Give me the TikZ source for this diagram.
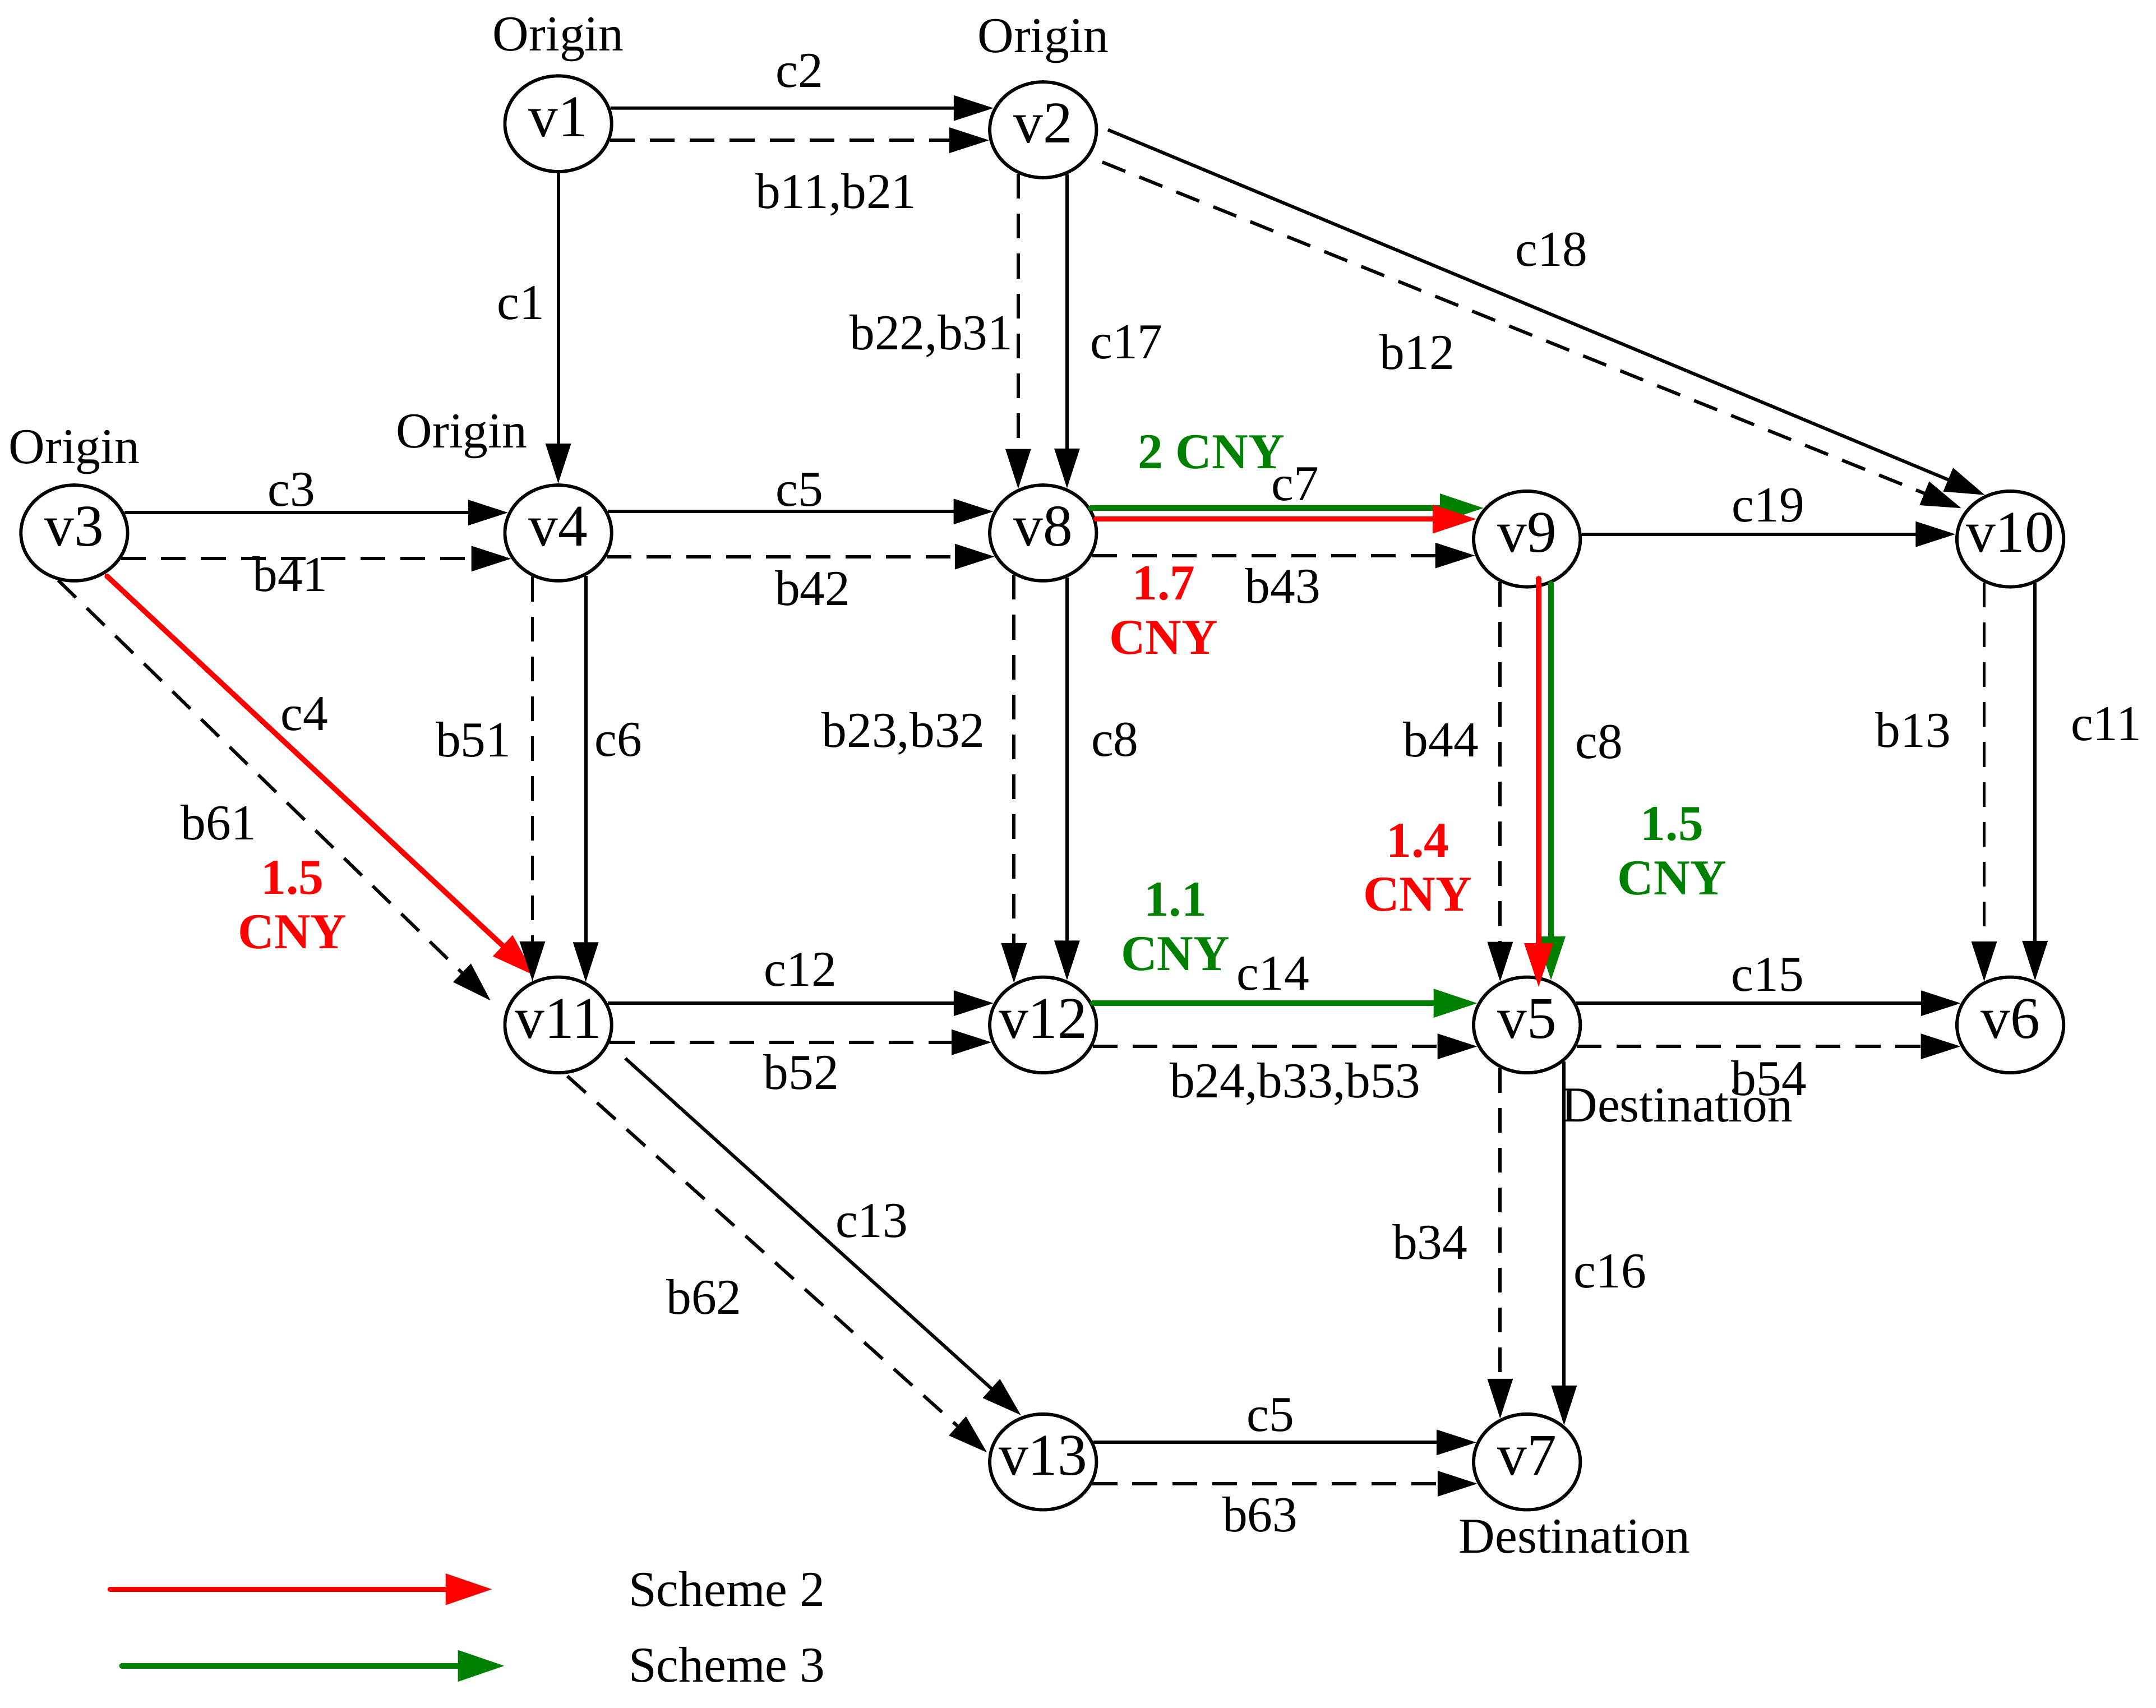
\documentclass[tikz,border=0pt]{standalone}
\usepackage{fontspec}
\setmainfont{Liberation Serif}
\usetikzlibrary{arrows.meta,calc,shapes.geometric}
\definecolor{sgreen}{RGB}{0,128,0}
\definecolor{sred}{RGB}{255,0,0}
\newcommand\RX{40}
\newcommand\RY{36}
% border point of a node for a horizontal line: node, side (+1 right, -1 left), screen dy
\newcommand\hp[3]{($(#1)+({(#2)*\RX*sqrt(1-((#3)/\RY)^2)},{#3})$)}
% border point of a node for a vertical line: node, side (+1 below, -1 above), screen dx
\newcommand\vp[3]{($(#1)+({#3},{(#2)*\RY*sqrt(1-((#3)/\RX)^2)})$)}
\newcommand\vlab[1]{\makebox[0pt]{\raisebox{-9.5pt}[0pt][0pt]{#1}}}
\tikzset{
  vnode/.style={draw, line width=2.4pt, ellipse, minimum width=77.6pt, minimum height=69.6pt,
    inner sep=0pt, outer sep=0pt, font=\fontsize{43}{50}\selectfont},
  lbl/.style={font=\fontsize{36.5}{40}\selectfont, inner sep=0pt},
  clbl/.style={font=\bfseries\fontsize{36.5}{39.5}\selectfont, align=center, inner sep=0pt},
  sol/.style={line width=2.4pt, -{Triangle[length=29pt,width=18pt]}},
  dsh/.style={sol, dash pattern=on 18pt off 11pt},
  redp/.style={draw=sred, line width=3.8pt, line cap=round, -{Triangle[length=32pt,width=20pt]}},
  grnp/.style={draw=sgreen, line width=3.8pt, line cap=round, -{Triangle[length=32pt,width=20pt]}},
}
\begin{document}
\begin{tikzpicture}[x=1pt, y=-1pt]
\fill[white] (0,0) rectangle (1568,1242);
\useasboundingbox (0,0) rectangle (1568,1242);

% nodes
\node[vnode] (v1)  at (406,90)      {\vlab{v1}};
\node[vnode] (v2)  at (758.6,94.4)  {\vlab{v2}};
\node[vnode] (v3)  at (54,387.6)    {\vlab{v3}};
\node[vnode] (v4)  at (406,387.6)   {\vlab{v4}};
\node[vnode] (v8)  at (758.6,387.6) {\vlab{v8}};
\node[vnode] (v9)  at (1110.5,392)  {\vlab{v9}};
\node[vnode] (v10) at (1462,392)    {\vlab{v10}};
\node[vnode] (v11) at (406,745.4)   {\vlab{v11}};
\node[vnode] (v12) at (758.6,745.4) {\vlab{v12}};
\node[vnode] (v5)  at (1110.5,745.4){\vlab{v5}};
\node[vnode] (v6)  at (1462,745.4)  {\vlab{v6}};
\node[vnode] (v13) at (758.6,1063.2){\vlab{v13}};
\node[vnode] (v7)  at (1110.5,1063.2){\vlab{v7}};

% v1 -> v2
\draw[sol] \hp{v1}{1}{-11.4} -- \hp{v2}{-1}{-15.8};
\draw[dsh] \hp{v1}{1}{12} -- \hp{v2}{-1}{7.6};
% v1 -> v4
\draw[sol] \vp{v1}{1}{0} -- \vp{v4}{-1}{0};
% v2 -> v8
\draw[dsh] \vp{v2}{1}{-18.1} -- \vp{v8}{-1}{-18.1};
\draw[sol] \vp{v2}{1}{17.4} -- \vp{v8}{-1}{17.4};
% v2 -> v10
\draw[sol] ($(v2)+(47.2,0)$) -- ($(v10)+(-18.4,-32)$);
\draw[dsh] ($(v2)+(43.1,23.5)$) -- ($(v10)+(-35.6,-22.4)$);
% v3 -> v4
\draw[sol] \hp{v3}{1}{-14.8} -- \hp{v4}{-1}{-14.8};
\draw[dsh] \hp{v3}{1}{18.7} -- \hp{v4}{-1}{18.7};
% v3 -> v11
\draw[dsh] ($(v3)+(-11.7,34.4)$) -- ($(v11)+(-49.2,-17.7)$);
\draw[redp] ($(v3)+(23.8,31.4)$) -- ($(v11)+(-17,-35.8)$);
% v4 -> v8
\draw[sol] \hp{v4}{1}{-15.6} -- \hp{v8}{-1}{-15.6};
\draw[dsh] \hp{v4}{1}{17.2} -- \hp{v8}{-1}{17.2};
% v4 -> v11
\draw[dsh] \vp{v4}{1}{-18.8} -- \vp{v11}{-1}{-18.8};
\draw[sol] \vp{v4}{1}{20} -- \vp{v11}{-1}{20};
% v8 -> v9
\draw[grnp] \hp{v8}{1}{-18.1} -- \hp{v9}{-1}{-22.5};
\draw[redp] \hp{v8}{1}{-10.1} -- \hp{v9}{-1}{-14.5};
\draw[dsh] \hp{v8}{1}{16.4} -- \hp{v9}{-1}{12};
% v8 -> v12
\draw[dsh] \vp{v8}{1}{-21.2} -- \vp{v12}{-1}{-21.2};
\draw[sol] \vp{v8}{1}{17.4} -- \vp{v12}{-1}{17.4};
% v9 -> v10
\draw[sol] \hp{v9}{1}{-3.5} -- \hp{v10}{-1}{-3.5};
% v9 -> v5
\draw[dsh] \vp{v9}{1}{-19.5} -- \vp{v5}{-1}{-19.5};
\draw[grnp] \vp{v9}{1}{17.5} -- \vp{v5}{-1}{17.5};
\draw[redp] ($(v9)+(8.5,28.7)$) -- ($(v5)+(8.5,-27.4)$);
% v10 -> v6
\draw[dsh] \vp{v10}{1}{-19} -- \vp{v6}{-1}{-19};
\draw[sol] \vp{v10}{1}{18} -- \vp{v6}{-1}{18};
% v11 -> v12
\draw[sol] \hp{v11}{1}{-15.8} -- \hp{v12}{-1}{-15.8};
\draw[dsh] \hp{v11}{1}{12.6} -- \hp{v12}{-1}{12.6};
% v11 -> v13
\draw[sol] ($(v11)+(48.8,24.3)$) -- ($(v13)+(-16.1,-34)$);
\draw[dsh] ($(v11)+(6.6,37.2)$) -- ($(v13)+(-40.7,-6.8)$);
% v12 -> v5
\draw[grnp] \hp{v12}{1}{-15.8} -- \hp{v5}{-1}{-15.8};
\draw[dsh] \hp{v12}{1}{15.6} -- \hp{v5}{-1}{15.6};
% v5 -> v6
\draw[sol] \hp{v5}{1}{-15.8} -- \hp{v6}{-1}{-15.8};
\draw[dsh] \hp{v5}{1}{15.6} -- \hp{v6}{-1}{15.6};
% v5 -> v7
\draw[dsh] \vp{v5}{1}{-19.5} -- \vp{v7}{-1}{-19.5};
\draw[sol] \vp{v5}{1}{27} -- \vp{v7}{-1}{27};
% v13 -> v7
\draw[sol] \hp{v13}{1}{-14.2} -- \hp{v7}{-1}{-14.2};
\draw[dsh] \hp{v13}{1}{15.8} -- \hp{v7}{-1}{15.8};

% origin / destination labels
\node[lbl] (o1) at (406,28.6) {Origin};
\node[lbl] (o2) at (758.6,30) {Origin};
\node[lbl] (o3) at (54,329) {Origin};
\node[lbl] (o4) at (335.8,317.6) {Origin};
\node[lbl] (d5) at (1219.7,804) {Destination};
\node[lbl] (d7) at (1145.2,1117.6) {Destination};

% edge labels
\node[lbl] (lc2) at (581.6,51.5) {c2};
\node[lbl] (lb11) at (608,141.6) {b11,b21};
\node[lbl] (lc1) at (378.7,220.3) {c1};
\node[lbl] (lb22) at (677.3,244.6) {b22,b31};
\node[lbl] (lc17) at (819.3,248.9) {c17};
\node[lbl] (lc18) at (1128.4,181.7) {c18};
\node[lbl] (lb12) at (1030.6,256) {b12};
\node[lbl] (lc3) at (212,356.2) {c3};
\node[lbl] (lb41) at (211,417.7) {b41};
\node[lbl] (lc5a) at (581.6,356.2) {c5};
\node[lbl] (lb42) at (591,427.7) {b42};
\node[lbl] (lc7) at (942,352) {c7};
\node[lbl] (lb43) at (933,426) {b43};
\node[lbl] (lc19) at (1286,367.6) {c19};
\node[lbl] (lc4) at (221.5,519.4) {c4};
\node[lbl] (lb51) at (344.3,538) {b51};
\node[lbl] (lc6) at (449.8,538) {c6};
\node[lbl] (lb61) at (159,598) {b61};
\node[lbl] (lb23) at (657,533.7) {b23,b32};
\node[lbl] (lc8a) at (810.8,538) {c8};
\node[lbl] (lb44) at (1048,538) {b44};
\node[lbl] (lc8b) at (1163,539.4) {c8};
\node[lbl] (lb13) at (1391.4,530.8) {b13};
\node[lbl] (lc11) at (1531.7,526.5) {c11};
\node[lbl] (lc12) at (582,705.4) {c12};
\node[lbl] (lc14) at (925.8,708.2) {c14};
\node[lbl] (lc15) at (1285.5,708.8) {c15};
\node[lbl] (lb52) at (582.6,779.8) {b52};
\node[lbl] (lb24) at (942,788.4) {b24,b33,b53};
\node[lbl] (lb54) at (1286.5,784) {b54};
\node[lbl] (lc13) at (634,887.8) {c13};
\node[lbl] (lb34) at (1040,903.3) {b34};
\node[lbl] (lc16) at (1171,924.5) {c16};
\node[lbl] (lb62) at (512,943) {b62};
\node[lbl] (lc5b) at (924,1029.2) {c5};
\node[lbl] (lb63) at (916.4,1101.3) {b63};

% cost labels
\node[clbl, text=sgreen] (k1) at (881,329) {2 CNY};
\node[clbl, text=sred] (k2) at (846.3,444) {1.7\\CNY};
\node[clbl, text=sred] (k3) at (212.7,658) {1.5\\CNY};
\node[clbl, text=sred] (k4) at (1031,631) {1.4\\CNY};
\node[clbl, text=sgreen] (k5) at (1216,619) {1.5\\CNY};
\node[clbl, text=sgreen] (k6) at (854.8,674) {1.1\\CNY};

% legend
\coordinate (r0) at (80,1155.8);
\coordinate (r1) at (358,1155.8);
\coordinate (g0) at (88.6,1211.5);
\coordinate (g1) at (367,1211.5);
\draw[redp, -{Triangle[length=34pt,width=22pt]}] (r0) -- (r1);
\draw[grnp, -{Triangle[length=34pt,width=22pt]}] (g0) -- (g1);
\node[lbl, anchor=west] (s2) at (457,1155.8) {Scheme 2};
\node[lbl, anchor=west] (s3) at (457,1210.5) {Scheme 3};
\end{tikzpicture}
\end{document}
